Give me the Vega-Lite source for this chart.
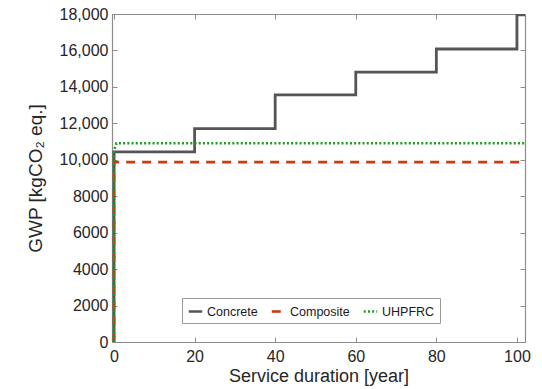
{
  "$schema": "https://vega.github.io/schema/vega-lite/v6.json",
  "width": 413,
  "height": 328,
  "autosize": {"type": "none"},
  "padding": {"left": 112, "top": 14, "right": 17, "bottom": 47},
  "background": "white",
  "config": {
    "font": "Liberation Sans",
    "view": {"stroke": null},
    "axis": {
      "domainColor": "#8c8c8c",
      "tickColor": "#8c8c8c",
      "grid": false,
      "labelColor": "#262626",
      "titleColor": "#262626",
      "labelFontSize": 16,
      "titleFontSize": 18,
      "titleFontWeight": "normal",
      "tickSize": -5,
      "domainWidth": 1.2
    },
    "legend": {
      "orient": "none",
      "legendX": 70,
      "legendY": 284,
      "direction": "horizontal",
      "strokeColor": "#9a9a9a",
      "fillColor": "white",
      "padding": 5,
      "labelFontSize": 12.5,
      "labelColor": "#1a1a1a",
      "symbolType": "stroke",
      "symbolSize": 180,
      "symbolStrokeWidth": 2.6,
      "columnPadding": 8,
      "labelOffset": 3
    }
  },
  "data": {
    "values": [
      {"year": 0, "gwp": 0, "series": "Concrete"},
      {"year": 0, "gwp": 10430, "series": "Concrete"},
      {"year": 20, "gwp": 11710, "series": "Concrete"},
      {"year": 40, "gwp": 13560, "series": "Concrete"},
      {"year": 60, "gwp": 14810, "series": "Concrete"},
      {"year": 80, "gwp": 16080, "series": "Concrete"},
      {"year": 100, "gwp": 17960, "series": "Concrete"},
      {"year": 102, "gwp": 17960, "series": "Concrete"},
      {"year": 0, "gwp": 0, "series": "Composite"},
      {"year": 0, "gwp": 9870, "series": "Composite"},
      {"year": 102, "gwp": 9870, "series": "Composite"},
      {"year": 0, "gwp": 0, "series": "UHPFRC"},
      {"year": 0, "gwp": 10500, "series": "UHPFRC"},
      {"year": 0.6, "gwp": 10905, "series": "UHPFRC"},
      {"year": 102, "gwp": 10905, "series": "UHPFRC"}
    ]
  },
  "layer": [
    {
      "transform": [{"filter": "datum.series === 'Concrete'"}],
      "mark": {"type": "line", "interpolate": "step-after", "strokeWidth": 2.8, "clip": true},
      "encoding": {
        "x": {"field": "year", "type": "quantitative", "scale": {"domain": [-0.5, 102], "nice": false, "zero": false},
          "axis": {"values": [0, 20, 40, 60, 80, 100], "title": "Service duration [year]", "labelPadding": 11, "titlePadding": 3}},
        "y": {"field": "gwp", "type": "quantitative", "scale": {"domain": [0, 18000], "nice": false},
          "axis": {"values": [0, 2000, 4000, 6000, 8000, 10000, 12000, 14000, 16000, 18000], "title": "GWP [kgCO₂ eq.]", "titleFontSize": 19,
            "labelExpr": "datum.value >= 10000 ? format(datum.value, ',') : format(datum.value, 'd')", "labelPadding": 9, "titlePadding": 14}},
        "color": {"field": "series", "type": "nominal",
          "scale": {"domain": ["Concrete", "Composite", "UHPFRC"], "range": ["#555555", "#cc3a10", "#1e9a1e"]},
          "legend": {"title": null}},
        "strokeDash": {"field": "series", "type": "nominal",
          "scale": {"domain": ["Concrete", "Composite", "UHPFRC"], "range": [[1, 0], [9, 7], [2, 2.2]]},
          "legend": {"title": null}},
        "order": {"field": "year"}
      }
    },
    {
      "transform": [{"filter": "datum.series !== 'Concrete'"}],
      "mark": {"type": "line", "strokeWidth": 2.6, "clip": true},
      "encoding": {
        "x": {"field": "year", "type": "quantitative", "axis": null},
        "y": {"field": "gwp", "type": "quantitative", "axis": null},
        "color": {"field": "series", "type": "nominal"},
        "strokeDash": {"field": "series", "type": "nominal"}
      }
    },
    {
      "mark": {"type": "point", "opacity": 0},
      "encoding": {
        "x": {"field": "year", "type": "quantitative",
          "axis": {"orient": "top", "values": [0, 20, 40, 60, 80, 100], "labels": false, "title": null}},
        "y": {"field": "gwp", "type": "quantitative",
          "axis": {"orient": "right", "values": [0, 2000, 4000, 6000, 8000, 10000, 12000, 14000, 16000, 18000], "labels": false, "title": null}}
      }
    }
  ],
  "resolve": {"axis": {"x": "independent", "y": "independent"}}
}
